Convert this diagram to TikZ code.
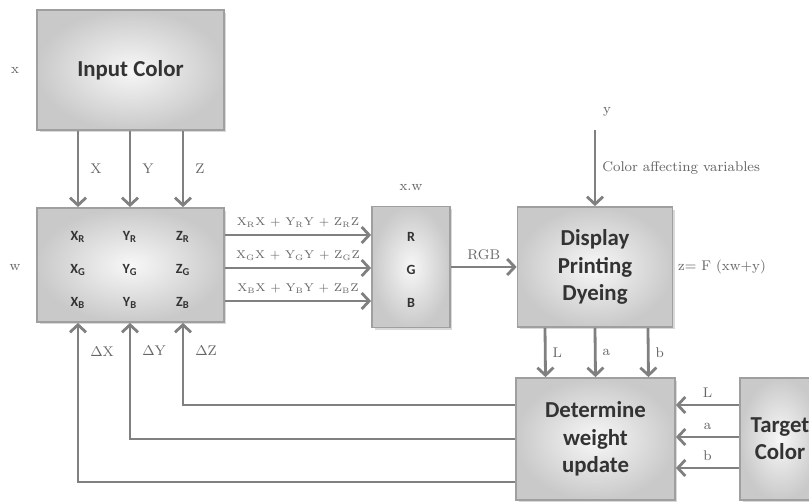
\documentclass[tikz,border=0pt]{standalone}
\usepackage{fontspec}
\newfontfamily\boxfont{Carlito}
\usepackage{tikz}
\usetikzlibrary{positioning,arrows.meta,shadows}
\tikzset{
    block/.style={rectangle, draw=gray!75, line width=1pt, inner color=gray!6, outer color=gray!42,
        drop shadow={opacity=0.3, shadow xshift=0.5mm, shadow yshift=-0.5mm},
        font=\boxfont\bfseries\fontsize{13}{15.5}\selectfont, text=black!80, align=center, inner sep=0pt},
    entry/.style={font=\boxfont\bfseries\footnotesize, text=black!80},
    flow/.style={draw=gray, line width=1.6pt, -{Straight Barb[length=1.5mm,width=3.2mm]}},
    lbl/.style={font=\footnotesize, text=black!60},
    eqlbl/.style={font=\fontsize{6.4}{8}\selectfont, text=black!60}
}

\begin{document}
\begin{tikzpicture}[x=0.02cm, y=-0.02cm]
    \useasboundingbox (0,0) rectangle (809,502);

    \node[block, minimum width=3.74cm, minimum height=2.4cm] (input) at (130.5,70) {Input Color};
    \node[block, minimum width=3.74cm, minimum height=2.28cm] (weights) at (130.5,265) {};
    \node[block, minimum width=1.56cm, minimum height=2.42cm] (rgb) at (411,267) {};
    \node[block, minimum width=3.1cm, minimum height=2.4cm] (device) at (595,267) {Display\\Printing\\Dyeing};
    \node[block, minimum width=3.18cm, minimum height=2.44cm] (update) at (595.5,439) {Determine\\weight\\update};
    \node[block, minimum width=1.6cm, minimum height=2.44cm] (target) at (780,439) {Target\\Color};

    % weight matrix
    \node[entry] (xr) at (78,237) {X\textsubscript{R}};
    \node[entry] (yr) at (130,237) {Y\textsubscript{R}};
    \node[entry] (zr) at (183,237) {Z\textsubscript{R}};
    \node[entry] (xg) at (78,270) {X\textsubscript{G}};
    \node[entry] (yg) at (130,270) {Y\textsubscript{G}};
    \node[entry] (zg) at (183,270) {Z\textsubscript{G}};
    \node[entry] (xb) at (78,303) {X\textsubscript{B}};
    \node[entry] (yb) at (130,303) {Y\textsubscript{B}};
    \node[entry] (zb) at (183,303) {Z\textsubscript{B}};

    \node[entry] (r) at (411,237) {R};
    \node[entry] (g) at (411,270) {G};
    \node[entry] (b) at (411,303) {B};

    \node[lbl] (xlabel) at (15,70) {x};
    \node[lbl] (wlabel) at (15,268) {w};
    \node[lbl] (xwlabel) at (411,188) {x.w};
    \node[lbl] (ylabel) at (607,112) {y};
    \node[lbl] (zlabel) at (722,267) {z= F (xw+y)};
    \coordinate (ystart) at (595,130);

    \draw[flow] (input.south -| xr) -- (weights.north -| xr) node[midway, right=1mm, lbl] {X};
    \draw[flow] (input.south -| yr) -- (weights.north -| yr) node[midway, right=1mm, lbl] {Y};
    \draw[flow] (input.south -| zr) -- (weights.north -| zr) node[midway, right=1mm, lbl] {Z};

    \draw[flow] ([yshift=0.04cm]weights.east |- r) -- ([yshift=0.04cm]rgb.west |- r) node[midway, above, eqlbl] {X\textsubscript{R}X + Y\textsubscript{R}Y + Z\textsubscript{R}Z};
    \draw[flow] ([yshift=0.04cm]weights.east |- g) -- ([yshift=0.04cm]rgb.west |- g) node[midway, above, eqlbl] {X\textsubscript{G}X + Y\textsubscript{G}Y + Z\textsubscript{G}Z};
    \draw[flow] ([yshift=0.04cm]weights.east |- b) -- ([yshift=0.04cm]rgb.west |- b) node[midway, above, eqlbl] {X\textsubscript{B}X + Y\textsubscript{B}Y + Z\textsubscript{B}Z};

    \draw[flow] (rgb) -- (device) node[midway, above, lbl] {RGB};
    \draw[flow] (ystart) -- (device.north) node[midway, right, lbl] {Color affecting variables};

    \draw[flow] ([xshift=-1cm]device.south) -- ([xshift=-1cm]update.north) node[midway, right, lbl] {L};
    \draw[flow] (device.south) -- (update.north) node[midway, right, lbl] {a};
    \draw[flow] ([xshift=1.06cm]device.south) -- ([xshift=1.06cm]update.north) node[midway, right, lbl] {b};

    \draw[flow] ([yshift=0.68cm]update.west) -| (weights.south -| zb) node[pos=0.83, right=1mm, lbl] {$\Delta$Z};
    \draw[flow] (update.west) -| (weights.south -| yb) node[pos=0.88, right=1mm, lbl] {$\Delta$Y};
    \draw[flow] ([yshift=-0.86cm]update.west) -| (weights.south -| xb) node[pos=0.91, right=1mm, lbl] {$\Delta$X};

    \draw[flow] ([yshift=0.68cm]target.west) -- ([yshift=0.68cm]update.east) node[midway, above, lbl] {L};
    \draw[flow] ([yshift=0.04cm]target.west) -- ([yshift=0.04cm]update.east) node[midway, above, lbl] {a};
    \draw[flow] ([yshift=-0.58cm]target.west) -- ([yshift=-0.58cm]update.east) node[midway, above, lbl] {b};

\end{tikzpicture}
\end{document}
